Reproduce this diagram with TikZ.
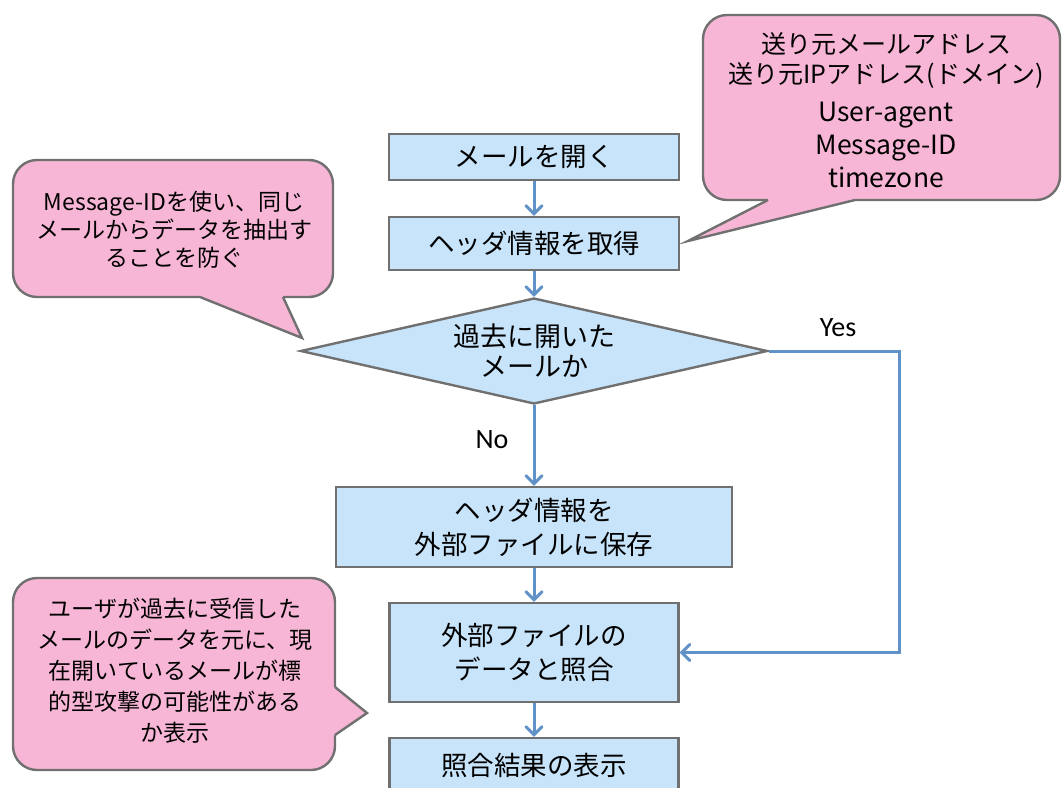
\documentclass[tikz,border=0pt]{standalone}
\usepackage{fontspec}
\setmainfont{Noto Sans CJK JP}
\newfontfamily\lat{Carlito}
\usetikzlibrary{arrows.meta,shapes.geometric}
\definecolor{boxblue}{RGB}{199,228,250}
\definecolor{bordergray}{RGB}{112,112,112}
\definecolor{arrowblue}{RGB}{96,146,200}
\definecolor{calpink}{RGB}{248,182,214}
\tikzset{
  box/.style={draw=bordergray, line width=2.4pt, fill=boxblue, inner sep=0pt, align=center, font=\fontsize{26.5}{34}\selectfont},
  arr/.style={draw=arrowblue, line width=3pt, -{Straight Barb[length=8pt,width=16pt,line cap=round]}},
  callbox/.style={draw=bordergray, line width=2.4pt, fill=calpink, rounded corners=24pt},
  tailfill/.style={fill=calpink},
  tailline/.style={draw=bordergray, line width=2.4pt, line join=miter},
  ctext/.style={align=center, inner sep=0pt},
  lbl/.style={font=\lat\fontsize{28}{30}\selectfont, inner sep=0pt}
}
\newcommand{\latbig}{\fontsize{26.5}{33}\selectfont}
\begin{document}
\begin{tikzpicture}[x=1pt,y=-1pt]
\useasboundingbox (0,0) rectangle (1062,787);
\clip (0,0) rectangle (1062,787);

% ---- callout top right
\draw[callbox] (703,15) rectangle (1060,200);
\fill[tailfill] (768,196) -- (768,200) -- (688,241) -- (855,200) -- (855,196) -- cycle;
\draw[tailline] (768,200) -- (688,241) -- (855,200);
\node[ctext, font=\fontsize{25}{33}\selectfont] (ctr) at (886,110)
  {送り元メールアドレス\\[-3pt]送り元IPアドレス(ドメイン)\\[5pt]{\latbig User-agent}\\{\latbig Message-ID}\\{\latbig timezone}};

% ---- callout top left
\draw[callbox] (13,160) rectangle (333,297);
\fill[tailfill] (200,293) -- (200,297) -- (302,338) -- (283,297) -- (283,293) -- cycle;
\draw[tailline] (200,297) -- (302,338) -- (283,297);
\node[ctext, font=\fontsize{23}{28}\selectfont] (ctl) at (174,230)
  {Message-IDを使い、同じ\\メールからデータを抽出す\\ることを防ぐ};

% ---- callout bottom left
\draw[callbox] (13,578) rectangle (335,770);
\fill[tailfill] (331,687) -- (335,687) -- (367,713) -- (335,735) -- (331,735) -- cycle;
\draw[tailline] (335,687) -- (367,713) -- (335,735);
\node[ctext, font=\fontsize{23}{31}\selectfont] (cbl) at (175,671)
  {ユーザが過去に受信した\\メールのデータを元に、現\\在開いているメールが標\\的型攻撃の可能性がある\\か表示};

% ---- flow
\node[box, minimum width=290pt, minimum height=46pt] (b1) at (534,157) {メールを開く};
\node[box, minimum width=290pt, minimum height=53pt] (b2) at (534,243.5) {ヘッダ情報を取得};
\node[box, diamond, aspect=4.4, minimum width=467pt, minimum height=106pt, font=\fontsize{27}{30}\selectfont] (d) at (534,351) {過去に開いた\\メールか};
\node[box, minimum width=396pt, minimum height=80pt] (b3) at (534,527) {ヘッダ情報を\\外部ファイルに保存};
\node[box, minimum width=289pt, minimum height=99pt] (b4) at (534,652.5) {外部ファイルの\\データと照合};
\node[box, minimum width=289pt, minimum height=54pt] (b5) at (534,765) {照合結果の表示};

\draw[arr] (b1) -- (b2);
\draw[arr] (b2) -- (d);
\draw[arr] (d) -- (b3);
\draw[arr] (b3) -- (b4);
\draw[arr] (b4) -- (b5);
\coordinate (yc) at (899,351);
\draw[arr] (d.east) -- (d.east -| yc) |- (b4.east);

\node[lbl] (yes) at (838,328) {Yes};
\node[lbl] (no) at (492,440) {No};
\end{tikzpicture}
\end{document}
